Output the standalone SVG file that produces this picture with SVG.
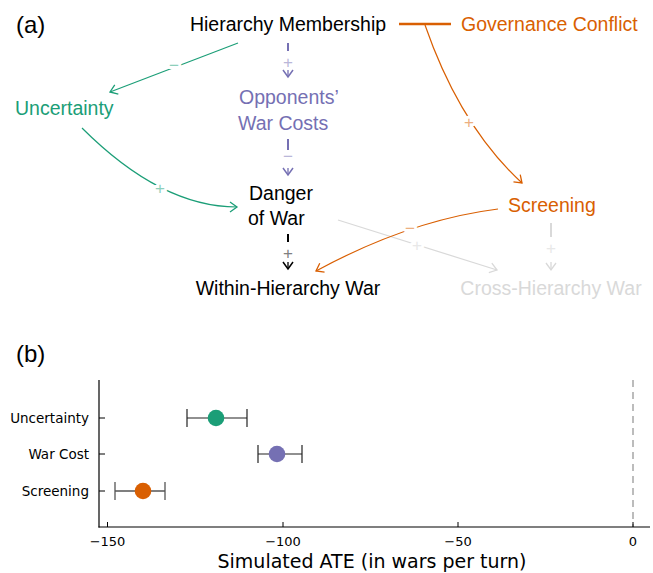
<svg xmlns="http://www.w3.org/2000/svg" width="653" height="573" viewBox="0 0 653 573">
<style>
  .lbl { font-family: "Liberation Sans", Arial, sans-serif; font-size: 19.5px; }
  .panel { font-family: "Liberation Sans", Arial, sans-serif; font-size: 24px; fill: #000; }
  .sign { font-family: "Liberation Sans", Arial, sans-serif; font-size: 17px; text-anchor: middle; stroke: #fff; stroke-width: 6px; paint-order: stroke; stroke-linejoin: round; }
  .ax { font-family: "DejaVu Sans", sans-serif; }
  .edge { fill: none; stroke-width: 1.2; }
  .green { stroke: #1b9e77; }
  .purple { stroke: #7570b3; }
  .orange { stroke: #d95f02; }
  .black { stroke: #000; }
  .gray { stroke: #d9d9d9; }
</style>
<defs>
  <marker id="ag" markerUnits="userSpaceOnUse" markerWidth="14" markerHeight="14" refX="0" refY="0" viewBox="-8 -7 10 14" orient="auto"><path d="M-7,-5 L0,0 L-7,5" fill="none" stroke="#1b9e77" stroke-width="1.3"/></marker>
  <marker id="ap" markerUnits="userSpaceOnUse" markerWidth="14" markerHeight="14" refX="0" refY="0" viewBox="-8 -7 10 14" orient="auto"><path d="M-7,-5 L0,0 L-7,5" fill="none" stroke="#7570b3" stroke-width="1.5"/></marker>
  <marker id="ao" markerUnits="userSpaceOnUse" markerWidth="14" markerHeight="14" refX="0" refY="0" viewBox="-8 -7 10 14" orient="auto"><path d="M-7,-5 L0,0 L-7,5" fill="none" stroke="#d95f02" stroke-width="1.3"/></marker>
  <marker id="ab" markerUnits="userSpaceOnUse" markerWidth="14" markerHeight="14" refX="0" refY="0" viewBox="-8 -7 10 14" orient="auto"><path d="M-7,-5 L0,0 L-7,5" fill="none" stroke="#000" stroke-width="1.5"/></marker>
  <marker id="ay" markerUnits="userSpaceOnUse" markerWidth="14" markerHeight="14" refX="0" refY="0" viewBox="-8 -7 10 14" orient="auto"><path d="M-7,-5 L0,0 L-7,5" fill="none" stroke="#d9d9d9" stroke-width="1.3"/></marker>
</defs>
<rect width="653" height="573" fill="#fff"/>

<text class="panel" x="16" y="33">(a)</text>

<g id="connectors">
  <!-- Hierarchy -> Governance (plain line) -->
  <line x1="399" y1="24" x2="451" y2="24" stroke="#d95f02" stroke-width="2.5"/>
  <!-- Hierarchy -> Uncertainty (-) -->
  <line class="edge green" x1="238" y1="43" x2="110" y2="92" marker-end="url(#ag)"/>
  <text class="sign" x="174" y="71" fill="#8dcfbb">−</text>
  <!-- Hierarchy -> Opponents' War Costs (+) -->
  <line x1="288" y1="43" x2="288" y2="51" stroke="#7570b3" stroke-width="2"/>
  <line x1="288" y1="70" x2="288" y2="77" stroke="#7570b3" stroke-width="1.3" marker-end="url(#ap)"/>
  <text class="sign" x="288" y="68" fill="#bab7d9">+</text>
  <!-- Opponents' War Costs -> Danger (-) -->
  <line x1="288" y1="139" x2="288" y2="150" stroke="#7570b3" stroke-width="2"/>
  <line x1="288" y1="168" x2="288" y2="175" stroke="#7570b3" stroke-width="1.3" marker-end="url(#ap)"/>
  <text class="sign" x="288" y="162" fill="#bab7d9">−</text>
  <!-- Uncertainty -> Danger (+) -->
  <path class="edge green" d="M82,128 Q161,207 237,207" marker-end="url(#ag)"/>
  <text class="sign" x="160" y="194" fill="#8dcfbb">+</text>
  <!-- Governance -> Screening (+) -->
  <path class="edge orange" d="M425,25 Q460,126 522,183" marker-end="url(#ao)"/>
  <text class="sign" x="469" y="128" fill="#ecaf80">+</text>
  <!-- Danger -> Within-Hierarchy War (+) -->
  <line x1="288" y1="234" x2="288" y2="242" stroke="#000" stroke-width="2"/>
  <line x1="288" y1="262" x2="288" y2="269" stroke="#000" stroke-width="1.3" marker-end="url(#ab)"/>
  <text class="sign" x="288" y="259" fill="#808080">+</text>
  <!-- Danger -> Cross-Hierarchy War (+) -->
  <line class="edge gray" x1="338" y1="220" x2="497" y2="270" marker-end="url(#ay)"/>
  <text class="sign" x="417" y="251" fill="#e8e8e8">+</text>
  <!-- Screening -> Within-Hierarchy War (-) -->
  <path class="edge orange" d="M498,209 Q410,220 316,271" marker-end="url(#ao)"/>
  <text class="sign" x="410" y="234" fill="#ecaf80">−</text>
  <!-- Screening -> Cross-Hierarchy War (+) -->
  <line x1="551" y1="223" x2="551" y2="237" stroke="#d9d9d9" stroke-width="2"/>
  <line x1="551" y1="262" x2="551" y2="270" stroke="#d9d9d9" stroke-width="1.3" marker-end="url(#ay)"/>
  <text class="sign" x="551" y="254" fill="#e8e8e8">+</text>
</g>

<g id="hierarchy-membership"><text class="lbl" x="288" y="31" text-anchor="middle" fill="#000">Hierarchy Membership</text></g>
<g id="governance-conflict"><text class="lbl" x="461" y="31" fill="#d95f02">Governance Conflict</text></g>
<g id="uncertainty"><text class="lbl" x="15" y="115" fill="#1b9e77">Uncertainty</text></g>
<g id="opponents-war-costs"><text class="lbl" fill="#7570b3"><tspan x="239" y="104">Opponents’</tspan><tspan x="238" y="130">War Costs</tspan></text></g>
<g id="danger-of-war"><text class="lbl" fill="#000"><tspan x="249" y="200">Danger</tspan><tspan x="248" y="225">of War</tspan></text></g>
<g id="screening"><text class="lbl" x="508" y="212" fill="#d95f02">Screening</text></g>
<g id="within-hierarchy-war"><text class="lbl" x="288" y="295" text-anchor="middle" fill="#000">Within-Hierarchy War</text></g>
<g id="cross-hierarchy-war"><text class="lbl" x="551" y="295" text-anchor="middle" fill="#d9d9d9">Cross-Hierarchy War</text></g>

<text class="panel" x="16" y="362">(b)</text>

<g id="plot">
  <line x1="633" y1="380" x2="633" y2="527" stroke="#999" stroke-width="1.3" stroke-dasharray="7,5"/>
  <line x1="99" y1="380" x2="99" y2="527.5" stroke="#000" stroke-width="1.2"/>
  <line x1="98.5" y1="527" x2="650" y2="527" stroke="#000" stroke-width="1.2"/>
  <g stroke="#000" stroke-width="1">
    <line x1="107.5" y1="527" x2="107.5" y2="522"/>
    <line x1="283" y1="527" x2="283" y2="522"/>
    <line x1="458" y1="527" x2="458" y2="522"/>
    <line x1="633" y1="527" x2="633" y2="522"/>
    <line x1="99" y1="418" x2="105" y2="418"/>
    <line x1="99" y1="454" x2="105" y2="454"/>
    <line x1="99" y1="491" x2="105" y2="491"/>
  </g>
  <g class="ax" font-size="13" text-anchor="middle" fill="#000">
    <text x="107.5" y="546">−150</text>
    <text x="283" y="546">−100</text>
    <text x="458" y="546">−50</text>
    <text x="633" y="546">0</text>
  </g>
  <g class="ax" font-size="13.5" text-anchor="end" fill="#000">
    <text x="89" y="423">Uncertainty</text>
    <text x="89" y="459">War Cost</text>
    <text x="89" y="496">Screening</text>
  </g>
  <text class="ax" x="372" y="568" font-size="19" text-anchor="middle" fill="#000">Simulated ATE (in wars per turn)</text>
  <!-- Uncertainty -->
  <g stroke="#222" stroke-width="1.2">
    <line x1="187" y1="418" x2="247" y2="418"/>
    <line x1="187" y1="409" x2="187" y2="427"/>
    <line x1="247" y1="409" x2="247" y2="427"/>
  </g>
  <circle cx="216" cy="418" r="8.3" fill="#1b9e77"/>
  <!-- War Cost -->
  <g stroke="#222" stroke-width="1.2">
    <line x1="258" y1="454" x2="302" y2="454"/>
    <line x1="258" y1="445" x2="258" y2="463"/>
    <line x1="302" y1="445" x2="302" y2="463"/>
  </g>
  <circle cx="277" cy="454" r="8.3" fill="#7570b3"/>
  <!-- Screening -->
  <g stroke="#555" stroke-width="1.3">
    <line x1="115" y1="491" x2="165" y2="491"/>
    <line x1="115" y1="482" x2="115" y2="500"/>
    <line x1="165" y1="482" x2="165" y2="500"/>
  </g>
  <circle cx="143" cy="491" r="8.3" fill="#d95f02"/>
</g>
</svg>
